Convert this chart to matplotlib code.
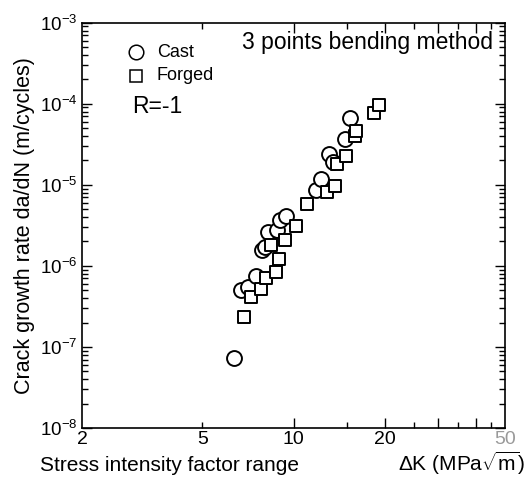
import numpy as np
import matplotlib
matplotlib.use("Agg")
import matplotlib.pyplot as plt
from matplotlib.ticker import FixedLocator, LogLocator, NullFormatter

plt.rcParams['font.family'] = ['Liberation Sans', 'DejaVu Sans']
plt.rcParams['mathtext.fontset'] = 'custom'
plt.rcParams['mathtext.rm'] = 'Liberation Sans'

# Cast specimens: stress intensity factor range (MPa*sqrt(m)) and da/dN (m/cycle)
cast_dk = [6.36, 6.69, 7.09, 7.49, 7.87, 8.02, 8.26, 8.79, 9.02, 9.41,
           11.9, 12.3, 13.1, 13.5, 14.8, 15.4]
cast_rate = [7.3e-8, 5.05e-7, 5.55e-7, 7.5e-7, 1.58e-6, 1.69e-6, 2.65e-6, 2.74e-6,
             3.7e-6, 4.14e-6, 8.7e-6, 1.19e-5, 2.38e-5, 1.92e-5, 3.66e-5, 6.66e-5]

# Forged specimens
forged_dk = [6.88, 7.21, 7.81, 8.13, 8.74, 8.97, 8.43, 9.38, 10.2, 11.1,
             12.9, 13.7, 13.9, 14.9, 15.9, 16.1, 18.5, 19.1]
forged_rate = [2.31e-7, 4.14e-7, 5.16e-7, 7.15e-7, 8.5e-7, 1.2e-6, 1.79e-6, 2.09e-6,
               3.07e-6, 5.82e-6, 8.2e-6, 9.53e-6, 1.82e-5, 2.24e-5, 4.03e-5, 4.55e-5,
               7.67e-5, 9.72e-5]

xtick_vals = [2, 5, 10, 20, 50]
xtick_labels = ['2', '5', '10', '20', '50']

fig = plt.figure(figsize=(5.29, 4.82), dpi=100)
ax = fig.add_axes([0.155, 0.112, 0.8, 0.841])

ax.scatter(cast_dk, cast_rate, s=115, marker='o', facecolors='white',
           edgecolors='black', linewidths=1.4, zorder=3)
ax.scatter(forged_dk, forged_rate, s=82, marker='s', facecolors='white',
           edgecolors='black', linewidths=1.4, zorder=3)

ax.set_xscale('log')
ax.set_yscale('log')
ax.set_xlim(2, 50)
ax.set_ylim(1e-8, 1e-3)

# x ticks: long at 10,20,30,40; short at 5,15,25,35,45
ax.xaxis.set_major_locator(FixedLocator([10, 20, 30, 40]))
ax.xaxis.set_minor_locator(FixedLocator([5, 15, 25, 35, 45]))
ax.xaxis.set_major_formatter(NullFormatter())
ax.xaxis.set_minor_formatter(NullFormatter())
for v, lab in zip(xtick_vals, xtick_labels):
    ax.text(v, 0.92e-8, lab, ha='center', va='top', fontsize=14,
            color='#9a9a9a' if v == 50 else 'black')

ax.yaxis.set_major_locator(LogLocator(base=10, numticks=10))
ax.yaxis.set_minor_locator(LogLocator(base=10, subs=np.arange(2, 10), numticks=10))

ax.tick_params(which='both', direction='in', top=True, right=True, width=1)
ax.tick_params(which='major', length=7)
ax.tick_params(which='minor', length=4)
ax.tick_params(axis='y', labelsize=13.5, pad=3)
for sp in ax.spines.values():
    sp.set_linewidth(1.2)

ax.text(0.972, 0.952, '3 points bending method', transform=ax.transAxes,
        ha='right', va='center', fontsize=16.5)
ax.text(0.118, 0.793, 'R=-1', transform=ax.transAxes, ha='left', va='center', fontsize=16.5)

ax.plot([0.128], [0.927], marker='o', ms=10.5, mfc='white', mec='black', mew=1.1,
        transform=ax.transAxes, clip_on=False)
ax.text(0.177, 0.927, 'Cast', transform=ax.transAxes, ha='left', va='center', fontsize=13)
ax.plot([0.128], [0.869], marker='s', ms=9, mfc='white', mec='black', mew=1.1,
        transform=ax.transAxes, clip_on=False)
ax.text(0.177, 0.869, 'Forged', transform=ax.transAxes, ha='left', va='center', fontsize=13)

ax.set_ylabel('Crack growth rate da/dN (m/cycles)', fontsize=15.5, labelpad=4)
fig.text(40 / 529, 0.022, 'Stress intensity factor range',
         ha='left', va='baseline', fontsize=15)
fig.text(525 / 529, 0.022, r'$\Delta$K (MPa$\sqrt{\rm m}$)',
         ha='right', va='baseline', fontsize=15)

fig.savefig('out.png', dpi=100)
